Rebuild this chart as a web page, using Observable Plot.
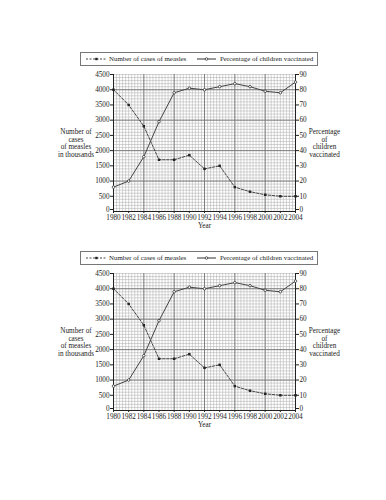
<!DOCTYPE html>
<html><head><meta charset="utf-8">
<script src="https://cdn.jsdelivr.net/npm/d3@7"></script>
<script src="https://cdn.jsdelivr.net/npm/@observablehq/plot@0.6"></script>
<style>
body{margin:0;background:#fff;width:386px;height:500px;position:relative;overflow:hidden;font-family:"Liberation Serif","DejaVu Serif",serif;}
.chart{position:absolute;left:0;width:386px;height:190px;}
.chart .plotwrap{position:absolute;left:0;top:10px;}
.legend{position:absolute;left:80px;top:0;width:236px;height:12px;border:1px solid #777;background:#fff;font-size:6.9px;color:#222;z-index:2}
.legend svg{position:absolute;top:0;}
.legend span{position:absolute;top:1px;white-space:nowrap;line-height:10px;}
</style>
</head><body>
<script>
const years = [1980,1982,1984,1986,1988,1990,1992,1994,1996,1998,2000,2002,2004];
const measles = [4000,3500,2800,1700,1700,1850,1400,1500,800,650,550,500,500];
const vaccinated = [16,20,36,59,78,81,80,82,84,82,79,78,85];
const casesTicks = [0,500,1000,1500,2000,2500,3000,3500,4000,4500];
const pctTicks = [0,10,20,30,40,50,60,70,80,90];
const seriesNames = ["Number of cases of measles","Percentage of children vaccinated"];
const leftTitle = "Number of\ncases\nof measles\nin thousands";
const rightTitle = "Percentage\nof\nchildren\nvaccinated";
const xTitle = "Year";
const SCALE = 4500/90;

const rows = years.map((y,i)=>({year:y, cases:measles[i], pct:vaccinated[i]}));

function makeChart(top){
  const div = document.createElement("div");
  div.className = "chart";
  div.style.top = top + "px";
  const lg = document.createElement("div");
  lg.className = "legend";
  lg.innerHTML = `
    <svg width="236" height="12" style="left:0">
      <line x1="5" y1="6" x2="26" y2="6" stroke="#333" stroke-width="0.9" stroke-dasharray="2,1.5"/>
      <rect x="14.2" y="4.8" width="2.4" height="2.4" fill="#222"/>
      <line x1="116" y1="6" x2="135" y2="6" stroke="#333" stroke-width="1"/>
      <circle cx="125.5" cy="6" r="1.3" fill="#fff" stroke="#333" stroke-width="0.8"/>
    </svg>
    <span style="left:28px">${seriesNames[0]}</span>
    <span style="left:139px">${seriesNames[1]}</span>`;
  const minorX = d3.range(0,61).map(i=>1980+i*0.4);
  const minorY = d3.range(0,46).map(i=>i*100);
  const common = {tickSize: 3, tickPadding: 1, label: null, fontSize: 7.2, fill: "#222"};
  const plot = Plot.plot({
    width: 386, height: 172,
    marginLeft: 113, marginRight: 91, marginTop: 12, marginBottom: 23,
    style: {fontFamily: "Liberation Serif, serif", fontSize: "7px", background: "transparent", color: "#222"},
    x: {domain: [1980, 2004]},
    y: {domain: [0, 4500]},
    marks: [
      Plot.ruleX(minorX, {stroke: "#aaa", strokeWidth: 0.5}),
      Plot.ruleY(minorY, {stroke: "#aaa", strokeWidth: 0.5}),
      Plot.ruleX([1984,1988,1992,1996,2000], {stroke: "#777", strokeWidth: 0.9}),
      Plot.ruleY([1000,2000,3000,4000], {stroke: "#777", strokeWidth: 0.9}),
      Plot.ruleX([1980,2004], {stroke: "#222", strokeWidth: 1}),
      Plot.ruleY([0], {stroke: "#222", strokeWidth: 1}),
      Plot.line(rows, {x: "year", y: "cases", stroke: "#333", strokeWidth: 0.9, strokeDasharray: "2.5,1.5"}),
      Plot.dot(rows, {x: "year", y: "cases", symbol: "square", r: 1.4, fill: "#222"}),
      Plot.line(rows, {x: "year", y: d=>d.pct*SCALE, stroke: "#444", strokeWidth: 1}),
      Plot.dot(rows, {x: "year", y: d=>d.pct*SCALE, r: 1.3, fill: "#fff", stroke: "#333", strokeWidth: 0.8}),
      Plot.axisY({...common, anchor: "left", ticks: casesTicks.slice(1), tickFormat: d=>String(d)}),
      Plot.axisY({...common, anchor: "left", ticks: [casesTicks[0]], dy: -2, tickFormat: d=>String(d)}),
      Plot.axisY({...common, anchor: "right", ticks: pctTicks.slice(1).map(p=>p*SCALE), tickFormat: d=>String(Math.round(d/SCALE))}),
      Plot.axisY({...common, anchor: "right", ticks: [pctTicks[0]*SCALE], dy: -2, tickFormat: d=>String(Math.round(d/SCALE))}),
      Plot.axisX({...common, ticks: years, tickSize: 2, tickPadding: 1, tickFormat: d=>String(d)}),
      Plot.text([xTitle], {frameAnchor: "bottom", dy: 16, fontSize: 7.2, fill: "#222"}),
      Plot.text([leftTitle], {frameAnchor: "left", dx: -37.5, textAnchor: "middle", fontSize: 7.2, lineHeight: 1.05, fill: "#222"}),
      Plot.text([rightTitle], {frameAnchor: "right", dx: 29, textAnchor: "middle", fontSize: 7.2, lineHeight: 1.05, fill: "#222"})
    ]
  });
  const wrap = document.createElement("div");
  wrap.className = "plotwrap";
  wrap.appendChild(plot);
  div.appendChild(wrap);
  div.appendChild(lg);
  document.body.appendChild(div);
}
makeChart(52);
makeChart(251);
</script>
</body></html>
